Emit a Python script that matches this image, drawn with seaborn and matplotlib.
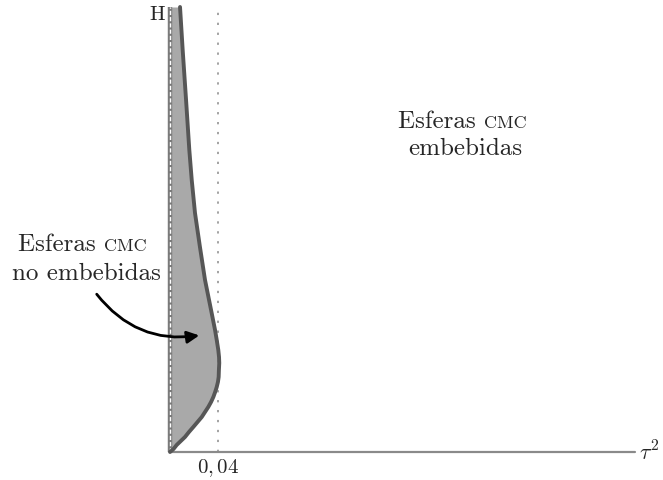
import numpy as np
import pandas as pd
import seaborn as sns
import matplotlib.pyplot as plt

# curva frontera (tau^2, H)
tau2 = [0.0, 0.0029, 0.0055, 0.0124, 0.0157, 0.0193, 0.0228, 0.0263, 0.0290,
        0.0317, 0.0340, 0.0359, 0.0374, 0.0387, 0.0397, 0.0403, 0.0405,
        0.0408, 0.0406, 0.0400, 0.0387, 0.0373, 0.0345, 0.0290, 0.0248,
        0.0207, 0.0180, 0.0160, 0.0133, 0.0105, 0.0083]
H = [0.0, 0.03, 0.07, 0.15, 0.20, 0.25, 0.30, 0.35, 0.40,
     0.45, 0.50, 0.55, 0.60, 0.65, 0.70, 0.75, 0.82,
     0.89, 0.95, 1.02, 1.12, 1.22, 1.39, 1.72, 2.05,
     2.39, 2.72, 3.02, 3.52, 4.02, 4.45]
tick_val = 0.04
tick_label = r'$0,04$'
H_top = 4.45
tau_max = 0.385

sns.set_theme(style='white')
plt.rcParams['font.family'] = ['cmr10', 'DejaVu Serif']
plt.rcParams['mathtext.fontset'] = 'cm'
plt.rcParams['axes.formatter.use_mathtext'] = True

df = pd.DataFrame({'tau2': tau2, 'H': H})

fig = plt.figure(figsize=(6.63, 4.8), dpi=100)
ax = fig.add_axes([0, 0, 1, 1])
ax.set_xlim(-170 / 1207.5, (663 - 170) / 1207.5)
ax.set_ylim(-0.28, 4.52)
ax.axis('off')

# region no embebida
ax.fill_betweenx(df['H'], 0, df['tau2'], color='#a9a9a9', lw=0, zorder=1)

# ejes
ax.plot([0, tau_max], [0, 0], color='#8a8a8a', lw=1.6, zorder=2)
ax.plot([0, 0], [0, H_top], color='#7a7a7a', lw=3.2, zorder=3, solid_capstyle='butt')
ax.plot([0, 0], [0, H_top], color='white', lw=1.0, zorder=4,
        linestyle=(0, (3, 1.5)))
ax.plot([tick_val, tick_val], [0, 4.40], color='#8a8a8a', lw=1.1, zorder=2,
        linestyle=(0, (1.5, 5)))

sns.lineplot(data=df, x='tau2', y='H', sort=False, estimator=None,
             color='#565656', lw=2.8, ax=ax, zorder=5)
ax.set_xlabel('')
ax.set_ylabel('')

# etiquetas
ax.text(-0.0104, H_top - 0.08, 'H', fontsize=15, ha='center', va='center')
ax.text(0.3885, 0.0, r'$\tau^2$', fontsize=16, ha='left', va='center')
ax.text(tick_val, -0.05, tick_label, fontsize=15, ha='center', va='top')


def esferas(x, y):
    t1 = ax.text(x, y, 'Esferas ', fontsize=18, ha='left', va='baseline')
    ax.annotate('CMC', xy=(1, y), xycoords=(t1, 'data'), fontsize=13,
                ha='left', va='baseline')


esferas(0.1888, 3.24)
ax.text(0.2443, 2.97, 'embebidas', fontsize=18, ha='center', va='baseline')
esferas(-0.1259, 2.01)
ax.text(-0.0692, 1.72, 'no embebidas', fontsize=18, ha='center', va='baseline')

ax.annotate('', xy=(0.0265, 1.17), xytext=(-0.0621, 1.60),
            arrowprops=dict(arrowstyle='-|>', color='black', lw=2,
                            mutation_scale=18,
                            connectionstyle='arc3,rad=0.3'), zorder=6)

fig.savefig('out.png', dpi=100)
